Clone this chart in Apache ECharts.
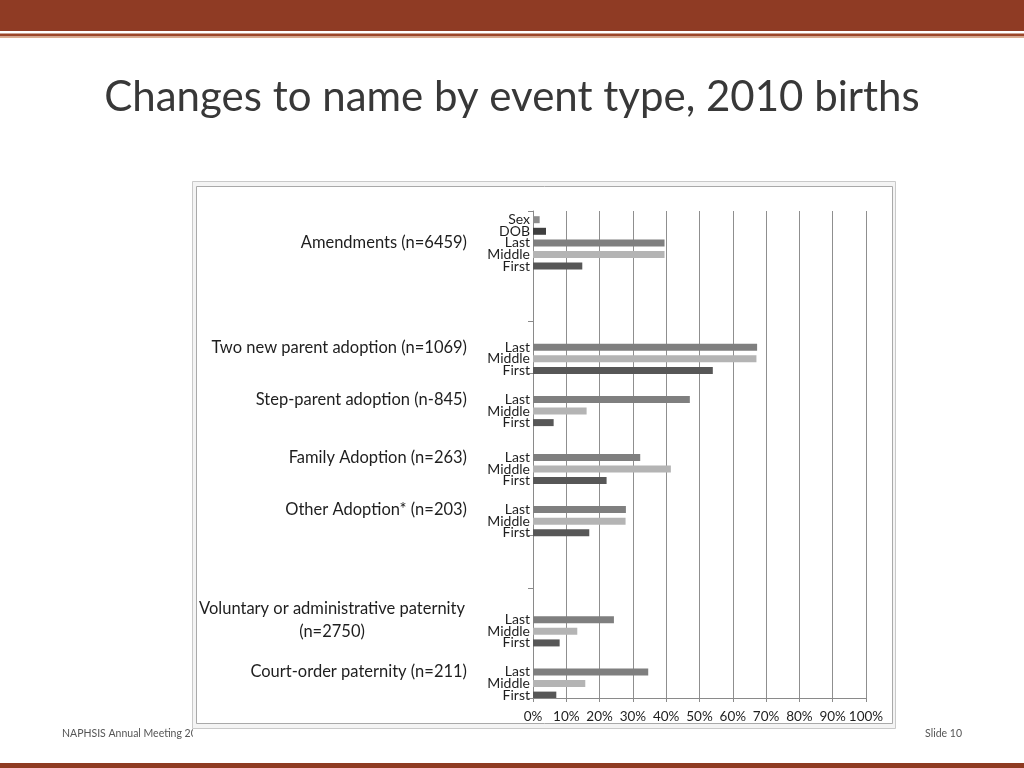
<!DOCTYPE html>
<html>
<head>
<meta charset="utf-8">
<script src="https://cdn.jsdelivr.net/npm/echarts@6/dist/echarts.min.js"></script>
<style>
html,body{margin:0;padding:0;background:#fff;}
#chart{width:1024px;height:768px;}
</style>
</head>
<body>
<div id="chart"></div>
<script>
// ---- data ----
const titleText = 'Changes to name by event type, 2010 births';
const groupLabels = [
  'Amendments (n=6459)',
  'Two new parent adoption (n=1069)',
  'Step-parent adoption (n-845)',
  'Family Adoption (n=263)',
  'Other Adoption* (n=203)',
  'Voluntary or administrative paternity\n(n=2750)',
  'Court-order paternity (n=211)'
];
const amendmentFields = ['Sex', 'DOB', 'Last', 'Middle', 'First'];
const nameFields = ['Last', 'Middle', 'First'];
const amendments = [2.0, 3.9, 39.5, 39.5, 14.8];
const twoNewParent = [67.3, 67.1, 54.0];
const stepParent = [47.1, 16.1, 6.2];
const familyAdoption = [32.2, 41.4, 22.1];
const otherAdoption = [27.9, 27.8, 16.9];
const voluntaryPaternity = [24.3, 13.3, 8.0];
const courtPaternity = [34.6, 15.7, 7.0];
const xTickValues = [0, 10, 20, 30, 40, 50, 60, 70, 80, 90, 100];

// ---- layout of category slots (blank spacer rows between bars/groups) ----
const groupFields = [amendmentFields, nameFields, nameFields, nameFields, nameFields, nameFields, nameFields];
const groupValues = [amendments, twoNewParent, stepParent, familyAdoption, otherAdoption, voluntaryPaternity, courtPaternity];
const blankRowsBefore = [1, 13, 4, 5, 4, 14, 4];
const blankRowsInside = 1;
const labelFieldName = 'Last';
const colors = {Sex: '#8c8c8c', DOB: '#3f3f3f', Last: '#7f7f7f', Middle: '#b4b4b4', First: '#575757'};

const innerCats = [], outerCats = [], barData = [];
groupFields.forEach(function (fields, g) {
  for (let b = 0; b < blankRowsBefore[g]; b++) { innerCats.push(''); outerCats.push(''); barData.push('-'); }
  fields.forEach(function (f, k) {
    if (k > 0) for (let b = 0; b < blankRowsInside; b++) { innerCats.push(''); outerCats.push(''); barData.push('-'); }
    innerCats.push(f);
    outerCats.push(f === labelFieldName ? groupLabels[g] : '');
    barData.push({value: groupValues[g][k], itemStyle: {color: colors[f]}});
  });
});
// tick marks on category axis (at group boundaries as in reference)
const tickIdx = [0, 19, 28, 56, 65];

const FONT = 'Lato';
const chart = echarts.init(document.getElementById('chart'), null, {renderer: 'canvas'});
chart.setOption({
  animation: false,
  backgroundColor: '#ffffff',
  textStyle: {fontFamily: FONT},
  title: {
    text: titleText,
    left: 'center',
    top: 71,
    textStyle: {fontFamily: FONT, fontSize: 42, fontWeight: 'normal', color: '#383838'}
  },
  grid: {left: 533, right: 158, top: 211, bottom: 70, containLabel: false},
  xAxis: {
    type: 'value', min: 0, max: 100, interval: 10,
    axisLine: {show: true, lineStyle: {color: '#8a8a8a', width: 1}},
    axisTick: {show: true, length: 4, lineStyle: {color: '#8a8a8a'}},
    splitLine: {show: true, lineStyle: {color: '#8f8f8f', width: 1}},
    axisLabel: {formatter: '{value}%', fontSize: 13.5, color: '#1e1e1e', margin: 12, fontFamily: FONT}
  },
  yAxis: [{
    type: 'category', inverse: true, data: innerCats,
    axisLine: {show: true, lineStyle: {color: '#8a8a8a', width: 1}},
    axisTick: {show: true, length: 5, lineStyle: {color: '#8a8a8a'},
      interval: function (i) { return tickIdx.indexOf(i) >= 0; }},
    axisLabel: {interval: 0, fontSize: 14, color: '#1e1e1e', margin: 3, fontFamily: FONT, lineHeight: 13},
    splitLine: {show: false}
  }, {
    type: 'category', inverse: true, data: outerCats, position: 'left', offset: 66,
    axisLine: {show: false}, axisTick: {show: false}, splitLine: {show: false},
    axisLabel: {
      interval: 0, fontSize: 16.5, color: '#1e1e1e', margin: 0, fontFamily: FONT, align: 'right',
      formatter: function (v) {
        if (v.indexOf('\n') >= 0) {
          return v.split('\n').map(function (s) { return '{c|' + s + '}'; }).join('\n');
        }
        return v;
      },
      rich: {c: {width: 270, align: 'center', fontSize: 16.5, lineHeight: 23, fontFamily: FONT, color: '#1e1e1e'}}
    }
  }],
  series: [{
    type: 'bar', yAxisIndex: 0, data: barData, barWidth: 7,
    barCategoryGap: 0, silent: true
  }],
  graphic: [
    // top banner
    {type: 'rect', shape: {x: 0, y: 0, width: 1024, height: 31}, style: {fill: '#8f3b24'}, z: -30},
    {type: 'rect', shape: {x: 0, y: 33.5, width: 1024, height: 3}, style: {fill: '#9c4629'}, z: -30},
    {type: 'rect', shape: {x: 0, y: 36.5, width: 1024, height: 1.5}, style: {fill: '#dcae92'}, z: -30},
    // bottom band
    {type: 'rect', shape: {x: 0, y: 763, width: 1024, height: 5}, style: {fill: '#8f3b22'}, z: -30},
    // footer texts
    {type: 'text', x: 62, y: 734, z: -25, style: {text: 'NAPHSIS Annual Meeting 2012', fontSize: 10.5, fontFamily: FONT, fill: '#555555', verticalAlign: 'middle'}},
    {type: 'text', x: 962, y: 734, z: -25, style: {text: 'Slide 10', fontSize: 10.5, fontFamily: FONT, fill: '#555555', align: 'right', verticalAlign: 'middle'}},
    // chart frame (covers the end of the footer text as in the slide)
    {type: 'rect', shape: {x: 193, y: 728, width: 702, height: 12}, style: {fill: '#ffffff'}, z: -21},
    {type: 'rect', shape: {x: 192.5, y: 181.5, width: 703, height: 547}, style: {fill: '#f4f4f4', stroke: '#c9c9c9', lineWidth: 1}, z: -20},
    {type: 'rect', shape: {x: 196.5, y: 186.5, width: 696, height: 537}, style: {fill: '#ffffff', stroke: '#a9a9a9', lineWidth: 1}, z: -19}
  ]
});
</script>
</body>
</html>
